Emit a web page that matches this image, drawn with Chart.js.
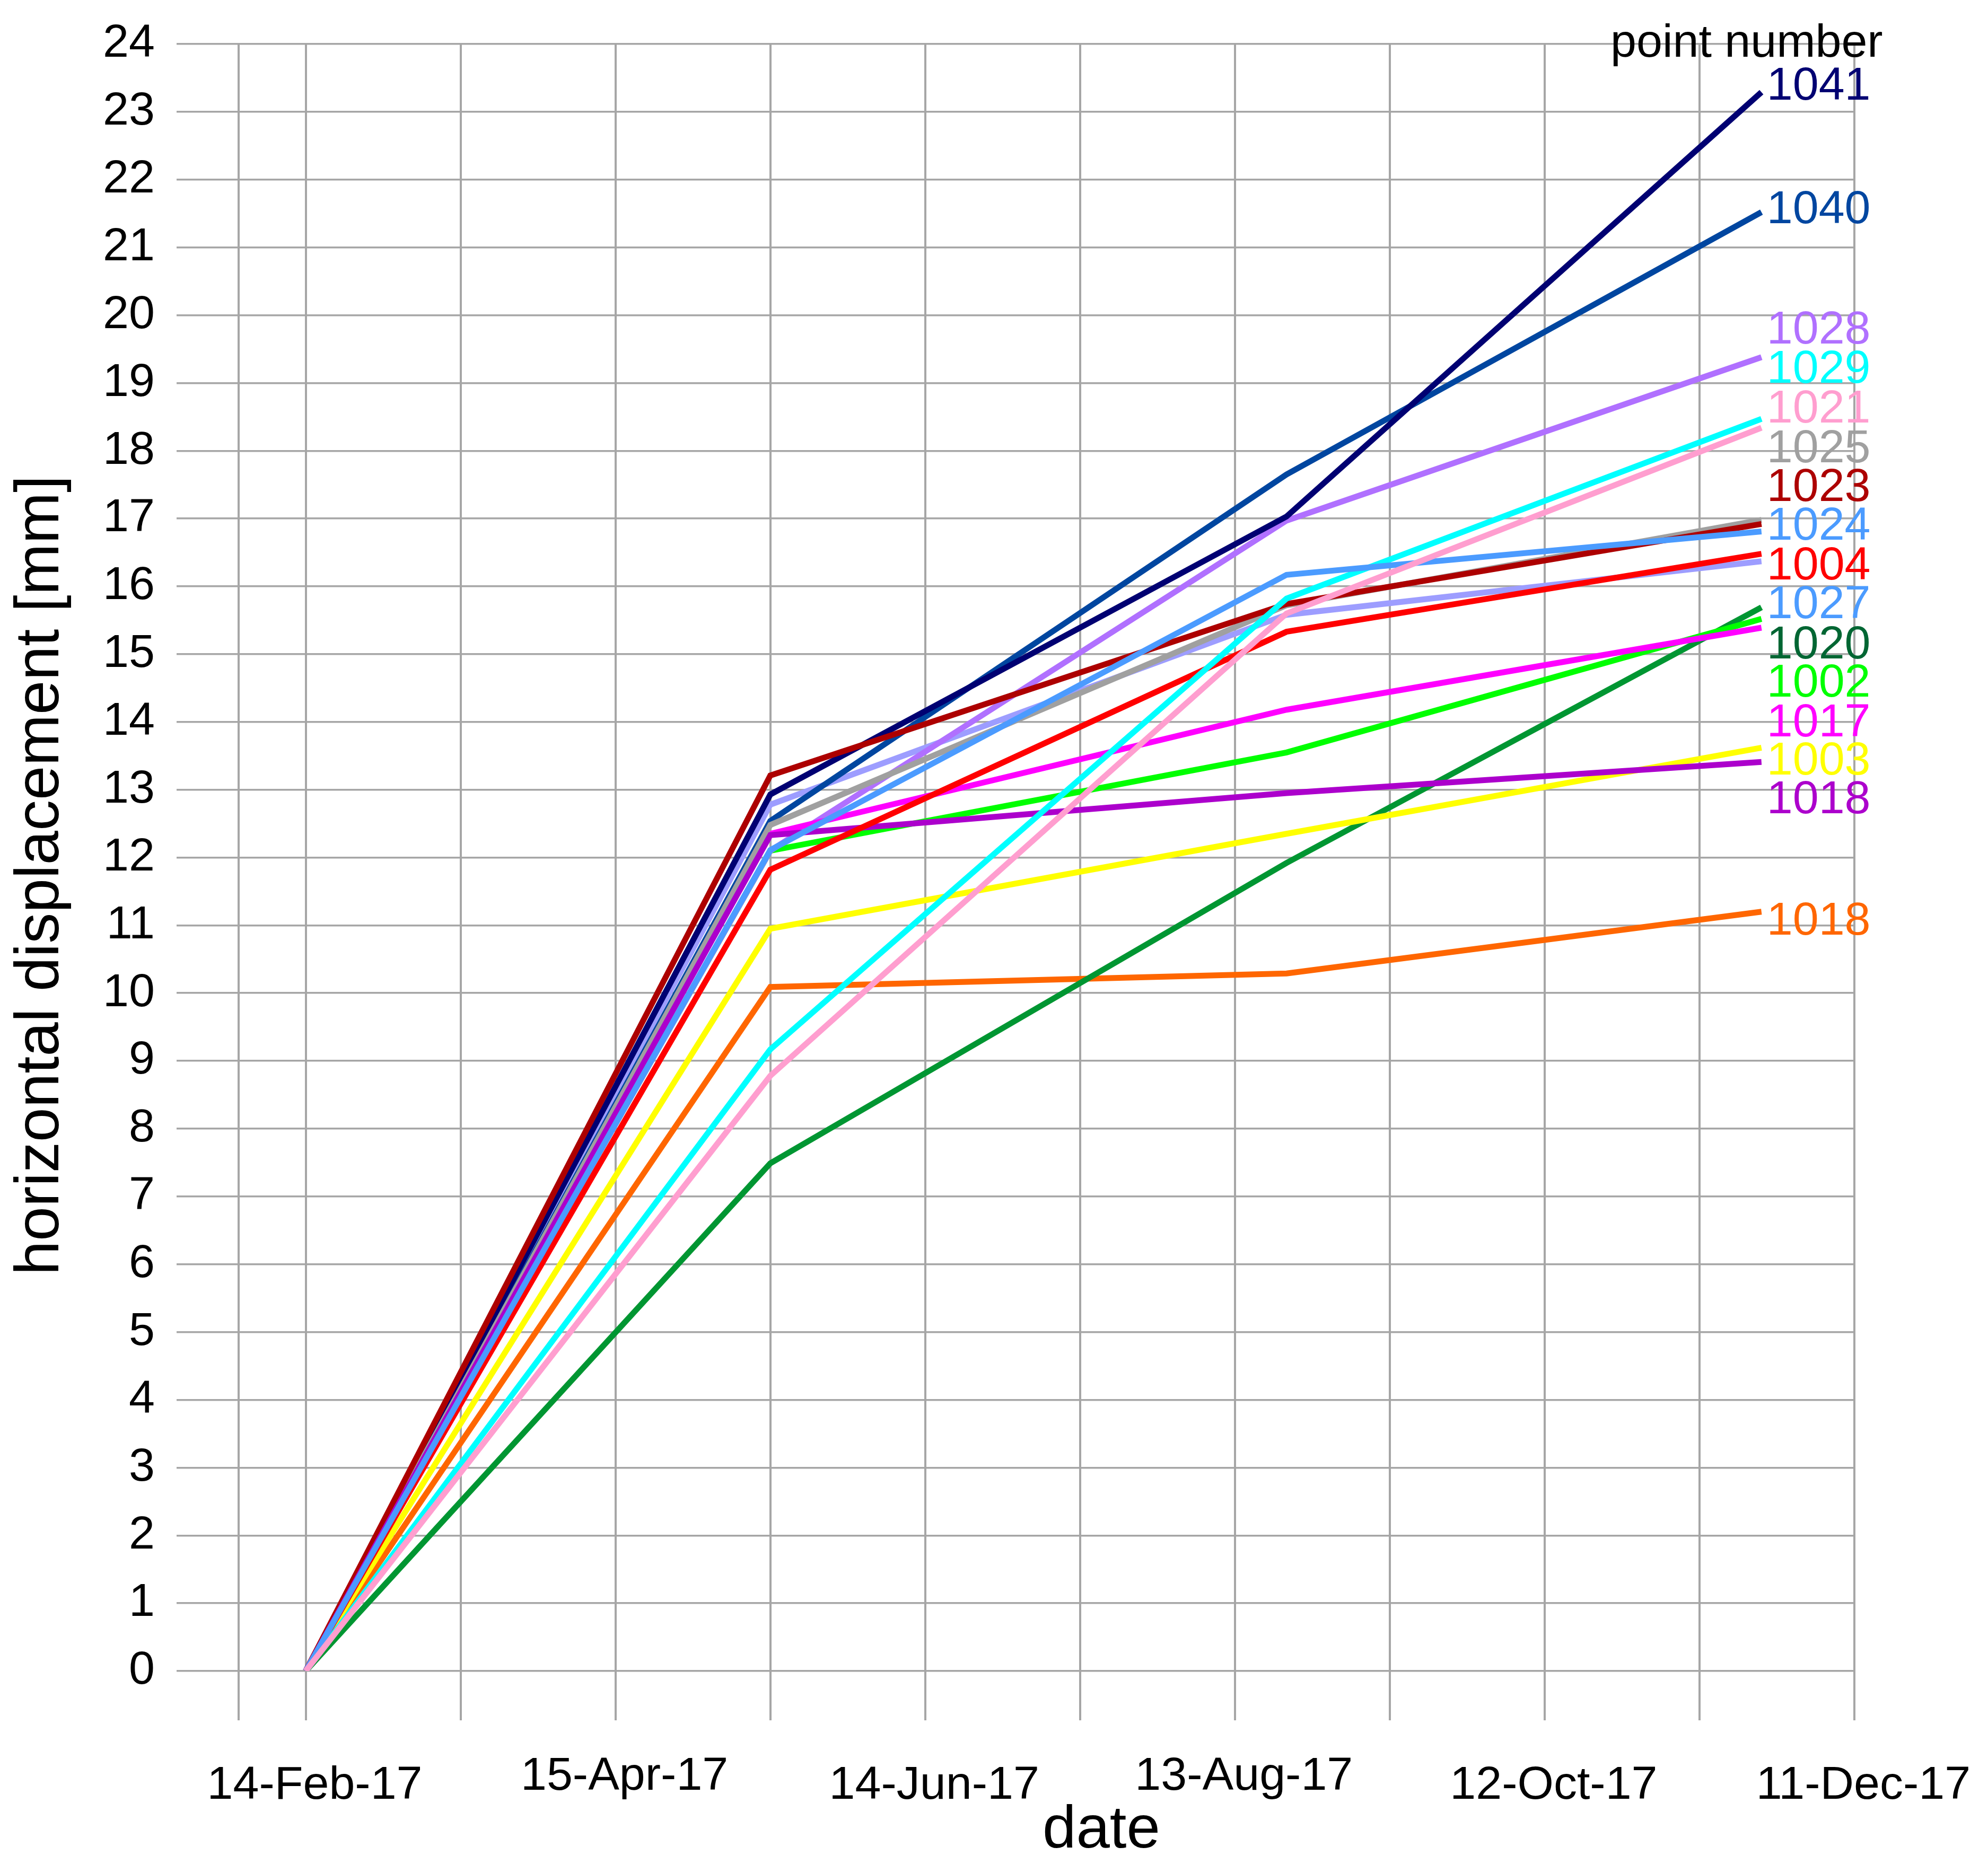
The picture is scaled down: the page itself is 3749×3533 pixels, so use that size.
<!DOCTYPE html>
<html lang="en">
<head>
<meta charset="UTF-8">
<title>Horizontal displacement</title>
<script src="https://cdn.jsdelivr.net/npm/chart.js@4.4.1/dist/chart.umd.min.js"></script>
<style>
    body { margin: 0; background: #ffffff; }
    canvas { display: block; }
</style>
</head>
<body>
<canvas id="graficoDesplazamiento" width="3749" height="3533"></canvas>
<script>
// survey dates and horizontal displacement [mm] of each point
const dates = ['2017-02-14', '2017-05-15', '2017-08-23', '2017-11-23'];

const d1041 = [0, 12.93, 17.03, 23.29];
const d1040 = [0, 12.54, 17.65, 21.52];
const d1028 = [0, 12.10, 16.97, 19.38];
const d1029 = [0, 9.17, 15.82, 18.47];
const d1021 = [0, 8.78, 15.60, 18.34];
const d1025 = [0, 12.48, 15.72, 16.98];
const d1023 = [0, 13.21, 15.74, 16.92];
const d1024 = [0, 12.11, 16.17, 16.81];
const d1004 = [0, 11.82, 15.33, 16.48];
const d1027 = [0, 12.78, 15.58, 16.37];
const d1020 = [0, 7.49, 11.92, 15.69];
const d1002 = [0, 12.10, 13.55, 15.52];
const d1017 = [0, 12.35, 14.18, 15.39];
const d1003 = [0, 10.95, 12.35, 13.62];
const d1018 = [0, 12.33, 12.95, 13.41];
const d1018b = [0, 10.09, 10.29, 11.20];

const pointNames = ['1041', '1040', '1028', '1029', '1021', '1025', '1023', '1024',
    '1004', '1027', '1020', '1002', '1017', '1003', '1018', '1018'];
const series = [d1041, d1040, d1028, d1029, d1021, d1025, d1023, d1024,
    d1004, d1027, d1020, d1002, d1017, d1003, d1018, d1018b];

const xTickLabels = ['14-Feb-17', '15-Apr-17', '14-Jun-17', '13-Aug-17', '12-Oct-17', '11-Dec-17'];
const axisStart = '2017-02-01';
const axisEnd = '2017-12-11';

// styling
const lineColors = ['#000072', '#0046a0', '#b070ff', '#00ffff', '#ff9ecf', '#a0a0a0', '#ad0000', '#4b9bff',
    '#ff0000', '#9d9dff', '#009632', '#00ff00', '#ff00ff', '#ffff00', '#ac00cc', '#ff6600'];
const labelColors = ['#000072', '#0046a0', '#b070ff', '#00ffff', '#ff9ecf', '#a0a0a0', '#ad0000', '#4b9bff',
    '#ff0000', '#4b9bff', '#006633', '#00ff00', '#ff00ff', '#ffff00', '#ac00cc', '#ff6600'];
const drawOrder = [9, 10, 11, 2, 0, 7, 6, 1, 3, 12, 14, 13, 8, 5, 4, 15];
// where the point numbers sit on the right, in mm
const labelAt = [23.37, 21.55, 19.77, 19.19, 18.61, 18.02, 17.45, 16.88,
    16.29, 15.72, 15.13, 14.56, 13.98, 13.41, 12.84, 11.05];

const FONT = '"Liberation Sans", Arial, sans-serif';
const GRID = '#a6a6a6';
const DAY_MS = 86400000;

function dayNumber(iso) {
    return (Date.parse(iso) - Date.parse(dates[0])) / DAY_MS;
}

// vertical grid: the axis start, then every 30 days from the first survey
function gridDays() {
    const days = [dayNumber(axisStart)];
    for (let d = 0; d <= dayNumber(axisEnd); d += 30) days.push(d);
    return days;
}

const textPlugin = {
    id: 'textos',
    afterDatasetsDraw(chart) {
        const { ctx, scales } = chart;
        const lastX = scales.x.getPixelForValue(dayNumber(dates[dates.length - 1]));
        ctx.save();
        ctx.font = `88px ${FONT}`;
        ctx.textAlign = 'left';
        ctx.textBaseline = 'middle';
        pointNames.forEach((name, i) => {
            ctx.fillStyle = labelColors[i];
            ctx.fillText(name, lastX + 10, scales.y.getPixelForValue(labelAt[i]));
        });

        ctx.fillStyle = '#000000';
        ctx.textBaseline = 'alphabetic';
        ctx.fillText('point number', 3037, 107);

        ctx.font = `114px ${FONT}`;
        ctx.textAlign = 'center';
        ctx.fillText('date', 2077, 3485);

        ctx.translate(110, 1651);
        ctx.rotate(-Math.PI / 2);
        ctx.font = `116px ${FONT}`;
        ctx.fillText('horizontal displacement [mm]', 0, 0);
        ctx.restore();
    }
};

let chart;

function drawChart() {
    const ctx = document.getElementById('graficoDesplazamiento').getContext('2d');

    const datasets = pointNames.map((name, i) => ({
        label: name,
        data: dates.map((d, j) => ({ x: dayNumber(d), y: series[i][j] })),
        borderColor: lineColors[i],
        backgroundColor: lineColors[i],
        borderWidth: 11,
        pointRadius: 0,
        tension: 0,
        fill: false,
        order: drawOrder[i]
    }));

    chart = new Chart(ctx, {
        type: 'line',
        data: { datasets: datasets },
        options: {
            responsive: false,
            animation: false,
            devicePixelRatio: 1,
            layout: { padding: { left: 0, right: 252, top: 83, bottom: 0 } },
            plugins: {
                legend: { display: false },
                tooltip: { enabled: false }
            },
            scales: {
                x: {
                    type: 'linear',
                    min: dayNumber(axisStart),
                    max: dayNumber(axisEnd),
                    afterBuildTicks(scale) {
                        scale.ticks = gridDays().map(v => ({ value: v }));
                    },
                    afterFit(scale) {
                        scale.height = 381;
                        scale.paddingLeft = 0;
                        scale.paddingRight = 0;
                    },
                    grid: { color: GRID, lineWidth: 4, tickLength: 93 },
                    border: { display: false },
                    ticks: {
                        autoSkip: false,
                        maxRotation: 0,
                        padding: 71,
                        labelOffset: 17,
                        color: '#000000',
                        font: (c) => {
                            const v = c.tick ? c.tick.value : 0;
                            const raised = v === 60 || v === 180;
                            return { family: FONT, size: 88, lineHeight: raised ? 0.81 : 1.2 };
                        },
                        callback: (v) => (v >= 0 && v % 60 === 0) ? xTickLabels[v / 60] : ''
                    }
                },
                y: {
                    min: 0,
                    max: 24,
                    afterFit(scale) {
                        scale.width = 450;
                        scale.paddingTop = 0;
                        scale.paddingBottom = 0;
                    },
                    grid: { color: GRID, lineWidth: 3.5, tickLength: 117 },
                    border: { display: false },
                    ticks: {
                        stepSize: 1,
                        padding: 41,
                        color: '#000000',
                        font: { family: FONT, size: 88 }
                    }
                }
            }
        },
        plugins: [textPlugin]
    });
}

drawChart();
</script>
</body>
</html>
